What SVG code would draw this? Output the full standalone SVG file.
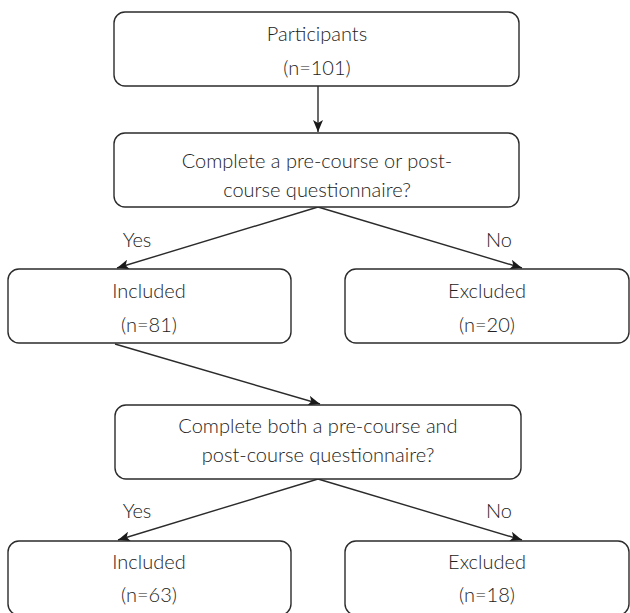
<svg xmlns="http://www.w3.org/2000/svg" width="630" height="613" viewBox="0 0 630 613">
<style>
.box{fill:#fff;stroke:#2b2b2b;stroke-width:1.4}
.t{font-family:Lato,"Open Sans","Liberation Sans",sans-serif;font-weight:300;font-size:20px;fill:#222;text-anchor:middle}
.c{stroke:#2b2b2b;stroke-width:1.4;fill:none;marker-end:url(#ah)}
</style>
<defs>
<marker id="ah" viewBox="0 0 12 10" refX="12" refY="5" markerWidth="12" markerHeight="10" markerUnits="userSpaceOnUse" orient="auto">
<path d="M0,0 L12,5 L0,10 L3,5 Z" fill="#1a1a1a"/>
</marker>
</defs>
<rect width="630" height="613" fill="#fff"/>
<g id="connectors">
<line class="c" x1="318" y1="86" x2="318" y2="132"/>
<line class="c" x1="318" y1="207" x2="117" y2="268"/>
<line class="c" x1="318" y1="207" x2="522" y2="268"/>
<line class="c" x1="115" y1="344" x2="320" y2="404"/>
<line class="c" x1="318" y1="479" x2="118" y2="540"/>
<line class="c" x1="318" y1="479" x2="522" y2="540"/>
</g>
<g id="labels">
<text class="t" x="137" y="247">Yes</text>
<text class="t" x="499" y="247">No</text>
<text class="t" x="137" y="518">Yes</text>
<text class="t" x="499" y="518">No</text>
</g>
<g id="participants">
<rect class="box" x="114" y="12" width="405" height="74" rx="11"/>
<text class="t" x="317" y="41">Participants</text>
<text class="t" x="317" y="75">(n=101)</text>
</g>
<g id="question1">
<rect class="box" x="114" y="133" width="405" height="74" rx="11"/>
<text class="t" x="317" y="168">Complete a pre-course or post-</text>
<text class="t" x="317" y="197">course questionnaire?</text>
</g>
<g id="included1">
<rect class="box" x="8" y="269" width="283" height="74" rx="11"/>
<text class="t" x="149" y="298">Included</text>
<text class="t" x="149" y="332">(n=81)</text>
</g>
<g id="excluded1">
<rect class="box" x="345" y="269" width="284" height="74" rx="11"/>
<text class="t" x="487" y="298">Excluded</text>
<text class="t" x="487" y="332">(n=20)</text>
</g>
<g id="question2">
<rect class="box" x="115" y="405" width="406" height="74" rx="11"/>
<text class="t" x="318" y="433">Complete both a pre-course and</text>
<text class="t" x="318" y="462">post-course questionnaire?</text>
</g>
<g id="included2">
<rect class="box" x="8" y="541" width="283" height="74" rx="11"/>
<text class="t" x="149" y="569">Included</text>
<text class="t" x="149" y="602">(n=63)</text>
</g>
<g id="excluded2">
<rect class="box" x="345" y="541" width="284" height="74" rx="11"/>
<text class="t" x="487" y="569">Excluded</text>
<text class="t" x="487" y="602">(n=18)</text>
</g>
</svg>
